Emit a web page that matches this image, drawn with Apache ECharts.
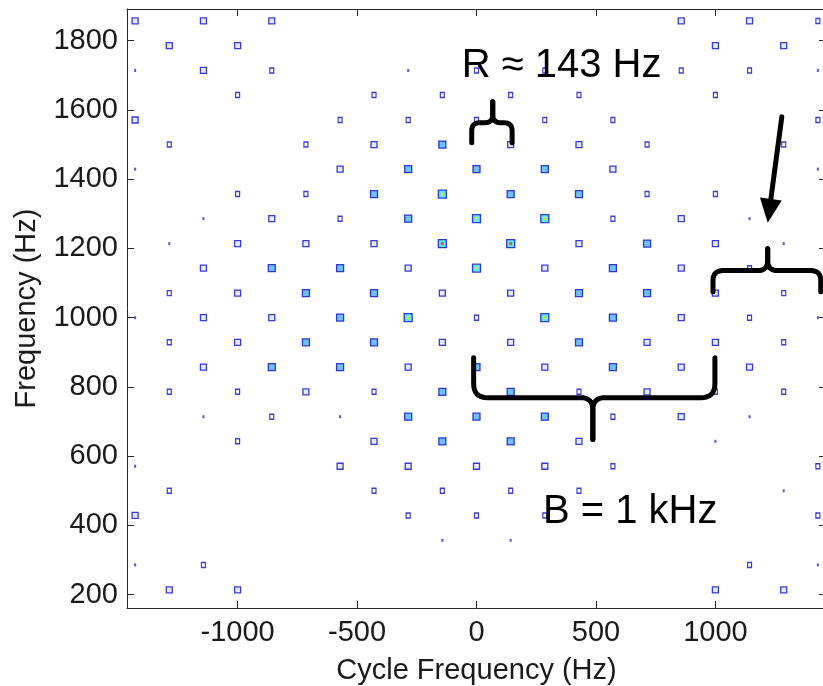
<!DOCTYPE html>
<html>
<head>
<meta charset="utf-8">
<script src="https://cdn.jsdelivr.net/npm/echarts@6/dist/echarts.min.js"></script>
<style>
html,body{margin:0;padding:0;background:#ffffff;}
#chart{width:823px;height:686px;}
</style>
</head>
<body>
<div id="chart"></div>
<script>
// ---- axis data ----
const xTicks = [-1000, -500, 0, 500, 1000];
const yTicks = [200, 400, 600, 800, 1000, 1200, 1400, 1600, 1800];
const xRange = [-1463, 1463];
const yRange = [161.6, 1891.5];
const xTitle = 'Cycle Frequency (Hz)';
const yTitle = 'Frequency (Hz)';

// ---- spectral-correlation peaks: [cycle frequency (Hz), frequency (Hz), strength level 0..5] ----
const peaks = [
  [-1429,1857,2],[-1143,1857,2],[-857,1857,2],[857,1857,2],[1143,1857,2],[1429,1857,1],
  [-1286,1786,2],[-1000,1786,2],[1000,1786,2],[1286,1786,2],
  [-1429,1714,0],[-1143,1714,2],[-857,1714,1],[-286,1714,0],[0,1714,1],[286,1714,1],[857,1714,1],[1143,1714,1],[1429,1714,0],
  [-1000,1643,1],[-429,1643,1],[-143,1643,1],[143,1643,1],[429,1643,1],[1000,1643,1],
  [-1429,1571,2],[-571,1571,1],[-286,1571,1],[0,1571,1],[286,1571,1],[571,1571,1],[1429,1571,1],
  [-1286,1500,1],[-714,1500,1],[-429,1500,2],[-143,1500,3],[143,1500,2],[429,1500,2],[714,1500,1],[1286,1500,1],
  [-1429,1429,0],[-571,1429,2],[-286,1429,3],[0,1429,3],[286,1429,3],[571,1429,2],[1429,1429,0],
  [-1000,1357,1],[-714,1357,1],[-429,1357,3],[-143,1357,4],[143,1357,3],[429,1357,3],[714,1357,1],[1000,1357,1],
  [-1143,1286,0],[-857,1286,2],[-571,1286,1],[-286,1286,3],[0,1286,4],[286,1286,4],[571,1286,1],[857,1286,2],[1143,1286,0],
  [-1286,1214,0],[-1000,1214,2],[-714,1214,2],[-429,1214,2],[-143,1214,5],[143,1214,5],[429,1214,2],[714,1214,3],[1000,1214,2],[1286,1214,0],
  [-1143,1143,2],[-857,1143,3],[-571,1143,3],[-286,1143,2],[0,1143,4],[286,1143,2],[571,1143,3],[857,1143,2],[1143,1143,1],
  [-1286,1071,1],[-1000,1071,2],[-714,1071,3],[-429,1071,3],[-143,1071,2],[143,1071,2],[429,1071,3],[714,1071,3],[1000,1071,2],[1286,1071,1],
  [-1429,1000,0],[-1143,1000,2],[-857,1000,2],[-571,1000,3],[-286,1000,4],[0,1000,1],[286,1000,4],[571,1000,3],[857,1000,2],[1143,1000,1],[1429,1000,0],
  [-1286,929,1],[-1000,929,2],[-714,929,3],[-429,929,3],[-143,929,2],[143,929,2],[429,929,3],[714,929,2],[1000,929,2],[1286,929,1],
  [-1143,857,2],[-857,857,3],[-571,857,3],[-286,857,2],[0,857,3],[286,857,2],[571,857,3],[857,857,2],[1143,857,2],
  [-1286,786,1],[-1000,786,1],[-714,786,2],[-429,786,1],[-143,786,3],[143,786,3],[429,786,1],[714,786,2],[1000,786,1],[1286,786,1],
  [-1143,714,0],[-857,714,1],[-571,714,0],[-286,714,3],[0,714,3],[286,714,3],[571,714,1],[857,714,2],[1143,714,0],
  [-1000,643,1],[-429,643,2],[-143,643,3],[143,643,3],[429,643,2],[1000,643,0],
  [-1429,571,0],[-571,571,2],[-286,571,2],[0,571,2],[286,571,2],[571,571,1],[1429,571,1],
  [-1286,500,1],[-429,500,1],[-143,500,1],[143,500,1],[429,500,1],[1286,500,0],
  [-1429,429,2],[-286,429,1],[0,429,1],[286,429,1],[1429,429,1],
  [-143,357,0],[143,357,0],
  [-1429,286,0],[-1143,286,1],[1143,286,1],[1429,286,0],
  [-1286,214,2],[-1000,214,2],[1000,214,2],[1286,214,2]
];

// ---- annotations (anchored in data coordinates) ----
const annoTexts = [
  { text: 'R \u2248 143 Hz', a: -62, f: 1726 },
  { text: 'B = 1 kHz', a: 278, f: 440 }
];
// braces: left end, right end, cusp position (cycle freq), end / bar / tip frequency
const braces = [
  { a1: -20, a2: 149, am: 68,  fEnd: 1505, fBar: 1563, fTip: 1624, r: 8,  rc: 8 },
  { a1: -12, a2: 998, am: 487, fEnd: 884,  fBar: 769,  fTip: 648,  r: 14, rc: 12 },
  { a1: 990, a2: 1441, am: 1219, fEnd: 1075, fBar: 1136, fTip: 1199, r: 10, rc: 10 }
];
const arrow = { from: [1278, 1580], to: [1219, 1274] };

// ---- styles ----
const FONT = '"Liberation Sans", Arial, Helvetica, sans-serif';
const AX = '#262626';
const levelSize = [[2,3],[4,5],[6,6],[7,7],[8,8],[8,8]];
const levelFill = ['#2b2bd6', '#ffffff', '#dfe6ff', '#4ab4ff', '#38e4ff', '#38e4ff'];
const coreColor = { 4: '#f2e000', 5: '#ff3a00' };

const chart = echarts.init(document.getElementById('chart'), null, { renderer: 'canvas' });

function plain(v) { return String(v); }

function axisCommon(range, ticks) {
  return {
    type: 'value', min: range[0], max: range[1],
    axisLine: { show: true, onZero: false, lineStyle: { color: AX, width: 1 } },
    axisTick: { show: true, inside: true, length: 7, customValues: ticks, lineStyle: { color: AX, width: 1 } },
    splitLine: { show: false },
    minorTick: { show: false }
  };
}

const outer = peaks.map(p => ({
  value: [p[0], p[1]],
  symbolSize: levelSize[p[2]],
  itemStyle: {
    color: levelFill[p[2]],
    borderColor: p[2] === 0 ? '#2b2bd6' : '#0b0bc8',
    borderWidth: p[2] === 0 ? 0 : 1.3
  }
}));
const inner = peaks.filter(p => p[2] >= 4).map(p => ({
  value: [p[0], p[1]],
  symbolSize: [3, 3],
  itemStyle: { color: coreColor[p[2]] }
}));

chart.setOption({
  animation: false,
  backgroundColor: '#ffffff',
  textStyle: { fontFamily: FONT },
  grid: { left: 127, top: 9, right: -3, bottom: 78, containLabel: false, outerBoundsMode: 'none' },
  xAxis: [
    Object.assign(axisCommon(xRange, xTicks), {
      position: 'bottom',
      axisLabel: { show: true, customValues: xTicks, formatter: plain, fontSize: 29, color: '#1a1a1a', margin: 10, fontFamily: FONT },
      name: xTitle, nameLocation: 'middle', nameGap: 48,
      nameTextStyle: { fontSize: 29, color: '#1a1a1a', fontFamily: FONT }
    }),
    Object.assign(axisCommon(xRange, xTicks), {
      position: 'top', axisLabel: { show: false }
    })
  ],
  yAxis: [
    Object.assign(axisCommon(yRange, yTicks), {
      position: 'left',
      axisLabel: { show: true, customValues: yTicks, formatter: plain, fontSize: 29, color: '#1a1a1a', margin: 9, fontFamily: FONT },
      name: yTitle, nameLocation: 'middle', nameGap: 86,
      nameTextStyle: { fontSize: 29, color: '#1a1a1a', fontFamily: FONT }
    }),
    Object.assign(axisCommon(yRange, yTicks), {
      position: 'right', axisLabel: { show: false }
    })
  ],
  series: [
    { type: 'scatter', xAxisIndex: 0, yAxisIndex: 0, symbol: 'rect', data: outer, z: 2, silent: true },
    { type: 'scatter', xAxisIndex: 0, yAxisIndex: 0, symbol: 'rect', data: inner, z: 3, silent: true }
  ]
});

// ---- annotations drawn on top, positioned through the axes ----
function px(a, f) { return chart.convertToPixel({ gridIndex: 0 }, [a, f]); }

function quad(p0, c, p1, n) {
  const out = [];
  for (let k = 1; k <= n; k++) {
    const t = k / n, u = 1 - t;
    out.push([u*u*p0[0] + 2*u*t*c[0] + t*t*p1[0], u*u*p0[1] + 2*u*t*c[1] + t*t*p1[1]]);
  }
  return out;
}
function braceHalf(xEnd, yEnd, yBar, xM, yTip, r, rc) {
  const d = Math.sign(yBar - yEnd);
  const s = Math.sign(xM - xEnd);
  let pts = [[xEnd, yEnd], [xEnd, yBar - d * r]];
  pts = pts.concat(quad([xEnd, yBar - d * r], [xEnd, yBar], [xEnd + s * r, yBar], 8));
  pts.push([xM - s * rc, yBar]);
  pts = pts.concat(quad([xM - s * rc, yBar], [xM, yBar], [xM, yBar + d * rc], 8));
  pts.push([xM, yTip]);
  return pts;
}

const graphics = [];
const strokeStyle = { stroke: '#000000', lineWidth: 5, fill: null, lineCap: 'round', lineJoin: 'round' };
braces.forEach(b => {
  const L = px(b.a1, b.fEnd), R = px(b.a2, b.fEnd), M = px(b.am, b.fBar), T = px(b.am, b.fTip);
  const yBar = M[1];
  [braceHalf(L[0], L[1], yBar, M[0], T[1], b.r, b.rc), braceHalf(R[0], R[1], yBar, M[0], T[1], b.r, b.rc)]
    .forEach(pts => graphics.push({ type: 'polyline', shape: { points: pts }, style: strokeStyle, z: 100, silent: true }));
});

// arrow
(function () {
  const A = px(arrow.from[0], arrow.from[1]);
  const B = px(arrow.to[0], arrow.to[1]);
  const dx = B[0] - A[0], dy = B[1] - A[1];
  const len = Math.sqrt(dx*dx + dy*dy), ux = dx/len, uy = dy/len;
  const headLen = 24, headW = 11;
  const base = [B[0] - ux*headLen, B[1] - uy*headLen];
  graphics.push({ type: 'line', shape: { x1: A[0], y1: A[1], x2: base[0] + ux*4, y2: base[1] + uy*4 },
    style: { stroke: '#000', lineWidth: 5, lineCap: 'round' }, z: 100, silent: true });
  graphics.push({ type: 'polygon', shape: { points: [
      [B[0], B[1]], [base[0] - uy*headW, base[1] + ux*headW], [base[0] + uy*headW, base[1] - ux*headW]
    ] }, style: { fill: '#000' }, z: 100, silent: true });
})();

annoTexts.forEach(t => {
  const P = px(t.a, t.f);
  graphics.push({ type: 'text', x: P[0], y: P[1], z: 101, silent: true,
    style: { text: t.text, fill: '#000', font: '40px ' + FONT, align: 'left', verticalAlign: 'middle' } });
});

chart.setOption({ graphic: graphics });
</script>
</body>
</html>
